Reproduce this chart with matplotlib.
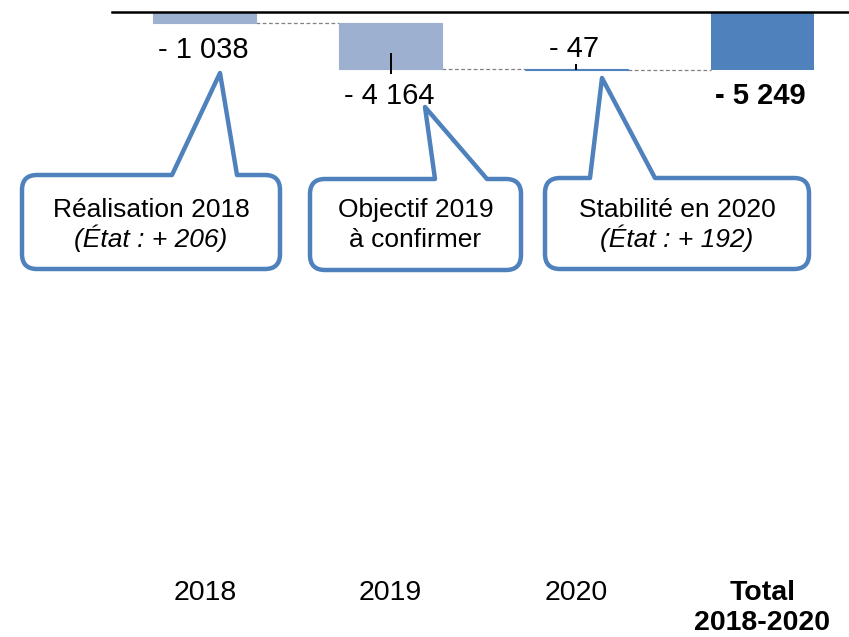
import matplotlib
matplotlib.use('Agg')
import matplotlib.pyplot as plt
import numpy as np
from matplotlib.path import Path
from matplotlib.patches import PathPatch
from matplotlib.transforms import IdentityTransform

plt.rcParams['font.family'] = ['Liberation Sans', 'DejaVu Sans']

# donnees
categories = ['2018', '2019', '2020', 'Total\n2018-2020']
variations = [-1038, -4164, -47]
total = sum(variations)          # -5249
cote_etiquette = ['dessous', 'dessous', 'dessus', 'dessous']
# petits traits noirs (x, haut, bas) en unites de donnees
reperes = [(1, -3730, -5640), (2, -4750, -5249)]

bulles_texte = [('Réalisation 2018', '(État : + 206)', True),
                ('Objectif 2019', 'à confirmer', False),
                ('Stabilité en 2020', '(État : + 192)', True)]

bleu_clair = '#9DB0D0'
bleu = '#4F81BD'

W, H = 849, 637
fig = plt.figure(figsize=(W / 100, H / 100), dpi=100)
ax = fig.add_axes([112 / W, 1 - 562 / H, 743 / W, 550 / H])

x = np.arange(len(categories))
largeur = 0.555
cumul = np.cumsum(variations)
debuts = np.concatenate([[0], cumul[:-1]])

ax.bar(x[:3], variations, bottom=debuts, width=largeur, color=bleu_clair,
       edgecolor=[bleu_clair, bleu_clair, bleu], linewidth=0.8, zorder=2)
ax.bar(x[3], total, width=largeur, color=bleu, zorder=2)

# lignes de liaison en pointille
for i in range(3):
    ax.plot([x[i] + largeur / 2, x[i + 1] - largeur / 2], [cumul[i], cumul[i]],
            ls=(0, (3, 2)), color='#808080', lw=0.9, zorder=1)

for xi, haut, bas in reperes:
    ax.vlines(xi, bas, haut, color='black', lw=1.4, zorder=3)

ax.axhline(0, color='black', lw=1.8, zorder=4, clip_on=False)


def fmt(v):
    return '- ' + f'{abs(v):,}'.replace(',', ' ')


valeurs = list(variations) + [total]
bas_barres = list(cumul) + [total]
hauts_barres = list(debuts) + [0]
for i, v in enumerate(valeurs):
    poids = 'bold' if i == 3 else 'normal'
    if cote_etiquette[i] == 'dessous':
        ax.annotate(fmt(v), (x[i], bas_barres[i]), xytext=(-1, -9),
                    textcoords='offset points', ha='center', va='top',
                    fontsize=21, fontweight=poids)
    else:
        ax.annotate(fmt(v), (x[i], hauts_barres[i] + v), xytext=(-2, 4.5),
                    textcoords='offset points', ha='center', va='bottom',
                    fontsize=21, fontweight=poids)

ax.set_xlim(-0.5, 3.5)
ax.set_ylim(-50000, 0)
ax.set_yticks([])
ax.set_xticks(x, categories)
ax.tick_params(axis='x', length=0, pad=13, labelsize=20.5)
ax.get_xticklabels()[-1].set_fontweight('bold')
for s in ax.spines.values():
    s.set_visible(False)


# bulles de commentaire (coordonnees en pixels, origine en haut)
def bulle(x0, x1, y0, y1, pointe, base, r=15):
    bg, bd = base
    pts = [(bg, y0), pointe, (bd, y0), (x1 - r, y0), (x1, y0), (x1, y0 + r),
           (x1, y1 - r), (x1, y1), (x1 - r, y1), (x0 + r, y1), (x0, y1),
           (x0, y1 - r), (x0, y0 + r), (x0, y0), (x0 + r, y0), (bg, y0)]
    codes = [Path.MOVETO, Path.LINETO, Path.LINETO, Path.LINETO,
             Path.CURVE3, Path.CURVE3, Path.LINETO, Path.CURVE3, Path.CURVE3,
             Path.LINETO, Path.CURVE3, Path.CURVE3, Path.LINETO,
             Path.CURVE3, Path.CURVE3, Path.CLOSEPOLY]
    verts = [(px, H - py) for px, py in pts]
    p = PathPatch(Path(verts, codes), facecolor='white', edgecolor=bleu,
                  lw=3.2, joinstyle='round', transform=IdentityTransform())
    fig.add_artist(p)


formes = [(22, 280, 175, 269, (220, 73), (172, 237)),
          (310, 521, 179, 270, (425, 107), (435, 487)),
          (545, 809, 178, 269, (602, 78), (590, 655))]

for (x0, x1, y0, y1, pointe, base), (l1, l2, ital) in zip(formes, bulles_texte):
    bulle(x0, x1, y0, y1, pointe, base)
    xc = (x0 + x1) / 2
    fig.text(xc / W, 1 - 217 / H, l1, ha='center', va='baseline', fontsize=19)
    fig.text(xc / W, 1 - 247 / H, l2, ha='center', va='baseline', fontsize=19,
             style='italic' if ital else 'normal')

fig.savefig('out.png', dpi=100)
